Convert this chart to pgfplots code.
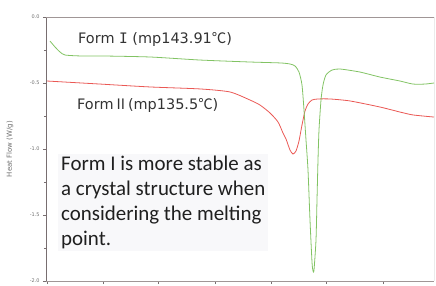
\documentclass[border=0pt]{standalone}
\usepackage{pgfplots}
\pgfplotsset{compat=1.18}
\usepackage{fontspec}
\setmainfont{Carlito}
\newfontfamily\dvs{DejaVu Sans}
\newfontfamily\dvm{DejaVu Sans Mono}
\newfontfamily\cjk{Noto Sans CJK JP}
\definecolor{formone}{RGB}{130,195,100}
\definecolor{formtwo}{RGB}{234,88,84}
\definecolor{axdark}{RGB}{120,110,112}
\definecolor{axlight}{RGB}{160,150,150}
\definecolor{txtbg}{RGB}{248,248,250}
\definecolor{ticktxt}{RGB}{110,110,110}
\begin{document}
\begin{tikzpicture}
\path[use as bounding box] (-46bp,-5bp) rectangle (390bp,281bp);
\begin{axis}[
  scale only axis,
  width=388bp, height=264bp,
  xmin=46, xmax=434, ymin=-2, ymax=0,
  axis line style={draw=none},
  xtick={47,103,158,215,271,326,383},
  xticklabels={},
  xtick pos=bottom, ytick pos=left,
  ytick={-2,-1.5,-1,-0.5,0},
  minor y tick num=1,
  tick align=outside,
  major tick length=3bp, minor tick length=2bp,
  tick style={axdark, line width=0.5pt},
  /pgf/number format/assume math mode=true,
  yticklabel style={font=\dvs\fontsize{5}{6}\selectfont, text=ticktxt, /pgf/number format/.cd, fixed, fixed zerofill, precision=1},
  ylabel={Heat Flow (W/g)},
  ylabel style={at={(axis description cs:-0.093,0.5)}, anchor=center, font=\dvs\fontsize{7}{8}\selectfont, text=ticktxt},
  clip=false,
]
\draw[axdark, line width=1pt] (rel axis cs:0,0) -- (rel axis cs:0,1);
\draw[axlight, line width=0.8pt] (rel axis cs:0,0) -- (rel axis cs:1,0);
\draw[axlight, line width=0.8pt] (rel axis cs:0,1) -- (rel axis cs:1,1);
\draw[black!8, line width=0.5pt] (rel axis cs:1,0) -- (rel axis cs:1,1);

\addplot[formtwo, line width=0.8pt, smooth, tension=0.4] coordinates {
(47,-0.485) (100,-0.508) (150,-0.530) (200,-0.545) (230,-0.568) (250,-0.629)
(260,-0.667) (270,-0.727) (278,-0.795) (283,-0.879) (286,-0.924) (290,-1.008)
(293,-1.038) (296,-1.015) (299,-0.939) (302,-0.818) (305,-0.712) (308,-0.659)
(312,-0.629) (318,-0.621) (330,-0.621) (350,-0.636) (380,-0.682) (400,-0.720)
(413,-0.742) (434,-0.758)
};
\addplot[formone, line width=0.8pt, smooth, tension=0.4] coordinates {
(50,-0.182) (55,-0.227) (60,-0.265) (65,-0.288) (80,-0.295) (100,-0.295)
(150,-0.303) (200,-0.326) (250,-0.341) (280,-0.348) (290,-0.356) (295,-0.371)
(299,-0.417) (302,-0.515) (304,-0.705) (306,-0.932) (308,-1.159) (310,-1.538)
(312,-1.856) (313,-1.924) (314,-1.917) (316,-1.689) (317,-1.386) (318,-1.083)
(319,-0.856) (321,-0.629) (323,-0.515) (326,-0.439) (332,-0.402) (340,-0.394)
(360,-0.417) (380,-0.455) (400,-0.485) (413,-0.508) (425,-0.508) (434,-0.500)
};

\node[anchor=west, inner xsep=1bp, inner ysep=1bp, text=black!80, font=\dvs\fontsize{14.5}{16}\selectfont]
  at (axis cs:77,-0.174) {Form {\dvm I} (mp143.91{\cjk ℃})};
\node[anchor=west, inner xsep=1bp, inner ysep=1bp, text=black!80, font=\dvs\fontsize{14.5}{16}\selectfont]
  at (axis cs:76,-0.667) {Form{\cjk Ⅱ}(mp135.5{\cjk ℃})};
\node[anchor=west, inner xsep=3bp, inner ysep=2bp, fill=txtbg, text=black!88, align=left,
  font=\fontsize{21}{25}\selectfont]
  at (axis cs:58,-1.405) {Form I is more stable as\\a crystal structure when\\considering the melting\\point.};
\end{axis}
\end{tikzpicture}
\end{document}
